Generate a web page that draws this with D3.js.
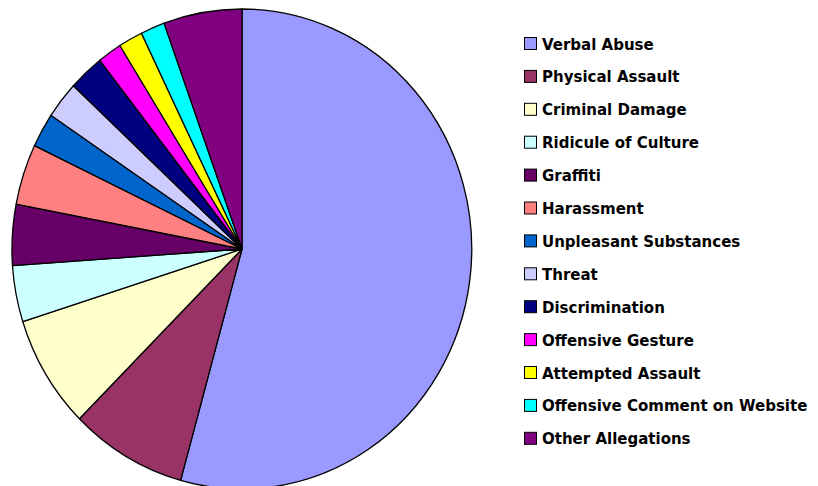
<!DOCTYPE html>
<html>
<head>
<meta charset="UTF-8">
<script src="https://cdn.jsdelivr.net/npm/d3@7"></script>
<style>
body { margin: 0; background: #fff; }
</style>
</head>
<body>
<script>
// share of allegations (percent)
var categories = ["Verbal Abuse", "Physical Assault", "Criminal Damage", "Ridicule of Culture",
                  "Graffiti", "Harassment", "Unpleasant Substances", "Threat", "Discrimination",
                  "Offensive Gesture", "Attempted Assault", "Offensive Comment on Website", "Other Allegations"];
var values = [54.3, 8.2, 7.6, 3.8, 4.1, 4.1, 2.3, 2.5, 2.5, 1.7, 1.7, 1.7, 5.5];
var colors = ["#9999ff", "#993366", "#ffffcc", "#ccffff", "#660066", "#ff8080", "#0066cc",
              "#ccccff", "#000080", "#ff00ff", "#ffff00", "#00ffff", "#800080"];

var Width = 818, Height = 486;
var cx = 242, cy = 249, rx = 230, ry = 240;

var svg = d3.select("body").append("svg")
    .attr("width", Width)
    .attr("height", Height);

var data = categories.map(function(c, i){ return {name: c, value: values[i], color: colors[i]}; });

var pie = d3.pie().sort(null).value(function(d){ return d.value; });
var arc = d3.arc().innerRadius(0).outerRadius(1);

// the pie in the picture is a bit taller than wide, so scale a unit circle
var g = svg.append("g")
    .attr("transform", "translate(" + cx + "," + cy + ") scale(" + rx + "," + ry + ")");

g.selectAll("path")
    .data(pie(data))
    .enter()
    .append("path")
    .attr("d", arc)
    .attr("fill", function(d){ return d.data.color; })
    .attr("stroke", "#000")
    .attr("stroke-width", 1.3)
    .attr("stroke-linejoin", "round")
    .attr("vector-effect", "non-scaling-stroke");

// legend
var lx = 524, ly = 37, step = 32.9;
var legend = svg.append("g");
var rows = legend.selectAll("g")
    .data(data)
    .enter()
    .append("g")
    .attr("transform", function(d, i){ return "translate(" + lx + "," + (ly + i * step) + ")"; });

rows.append("rect")
    .attr("x", 0.5).attr("y", 0.5)
    .attr("width", 12).attr("height", 12)
    .attr("fill", function(d){ return d.color; })
    .attr("stroke", "#000")
    .attr("stroke-width", 1);

rows.append("text")
    .attr("x", 18)
    .attr("y", 12.5)
    .attr("font-family", "'Comic Sans MS', 'DejaVu Sans', sans-serif")
    .attr("font-weight", "bold")
    .attr("font-size", 15)
    .attr("fill", "#000")
    .text(function(d){ return d.name; });
</script>
</body>
</html>
